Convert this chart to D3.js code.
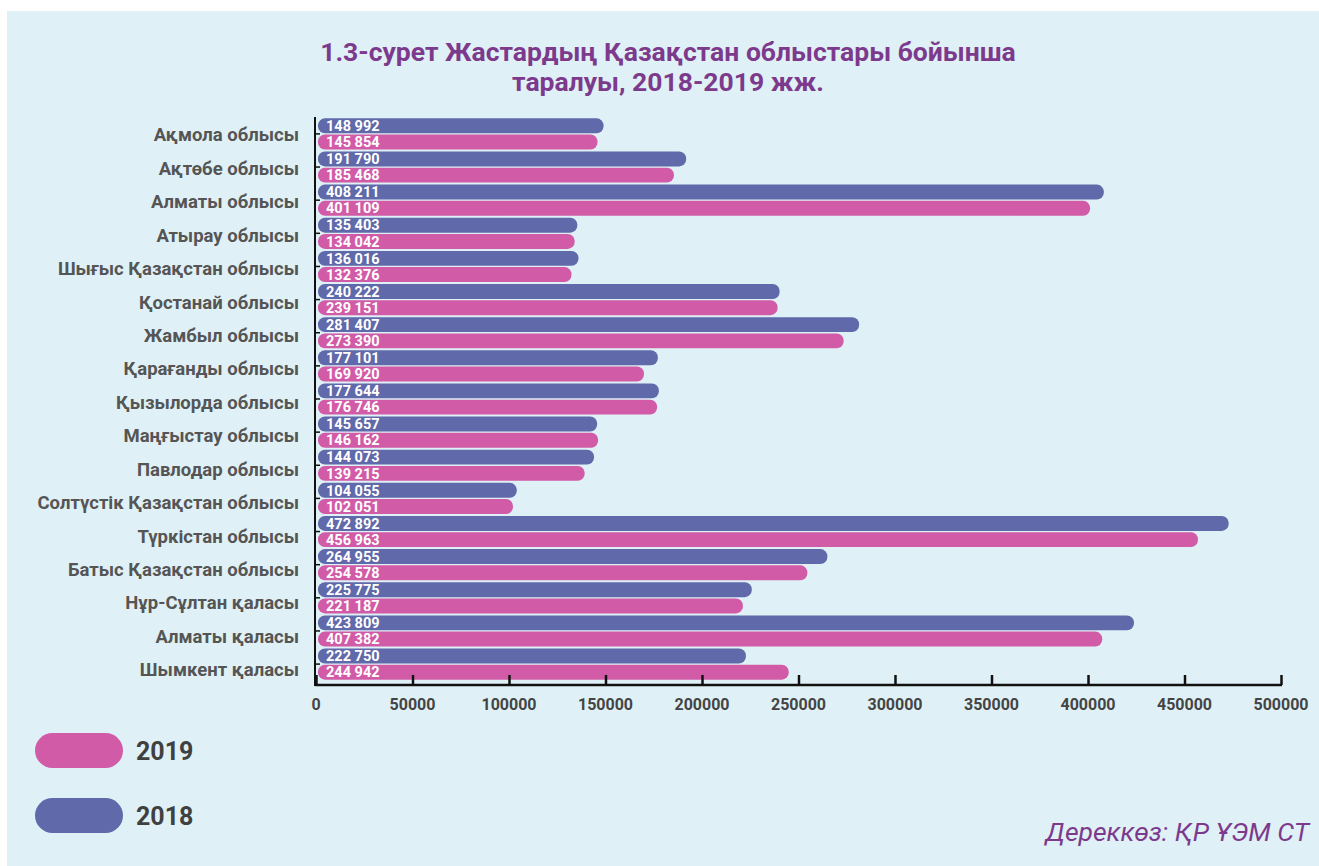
<!DOCTYPE html>
<html>
<head>
<meta charset="utf-8">
<script src="https://cdn.jsdelivr.net/npm/d3@7/dist/d3.min.js"></script>
<style>
  body { margin: 0; background: #fff; }
  text { font-family: Roboto, "Noto Sans", sans-serif; }
</style>
</head>
<body>
<div id="chart"></div>
<script>
// data
var regions = ["Ақмола облысы", "Ақтөбе облысы", "Алматы облысы", "Атырау облысы",
  "Шығыс Қазақстан облысы", "Қостанай облысы", "Жамбыл облысы", "Қарағанды облысы",
  "Қызылорда облысы", "Маңғыстау облысы", "Павлодар облысы", "Солтүстік Қазақстан облысы",
  "Түркістан облысы", "Батыс Қазақстан облысы", "Нұр-Сұлтан қаласы", "Алматы қаласы",
  "Шымкент қаласы"];
var v2018 = [148992, 191790, 408211, 135403, 136016, 240222, 281407, 177101, 177644,
  145657, 144073, 104055, 472892, 264955, 225775, 423809, 222750];
var v2019 = [145854, 185468, 401109, 134042, 132376, 239151, 273390, 169920, 176746,
  146162, 139215, 102051, 456963, 254578, 221187, 407382, 244942];
var xTicks = [0, 50000, 100000, 150000, 200000, 250000, 300000, 350000, 400000, 450000, 500000];
var years = ["2019", "2018"];

var W = 1319, H = 866;
var blue = "#6069a9", pink = "#d25ba8", purple = "#7d3a8d", grey = "#555";

var svg = d3.select("#chart").append("svg")
  .attr("width", W).attr("height", H);

// panel
svg.append("rect")
  .attr("x", 7).attr("y", 11)
  .attr("width", W - 7).attr("height", H - 11)
  .attr("fill", "#dff1f6");

// title
svg.append("text")
  .attr("x", 668).attr("y", 61)
  .attr("text-anchor", "middle")
  .attr("fill", purple)
  .style("font-size", "26.5px").style("font-weight", "bold")
  .text("1.3-сурет Жастардың Қазақстан облыстары бойынша");
svg.append("text")
  .attr("x", 668).attr("y", 91)
  .attr("text-anchor", "middle")
  .attr("fill", purple)
  .style("font-size", "26.5px").style("font-weight", "bold")
  .text("таралуы, 2018-2019 жж.");

// scales
var x = d3.scaleLinear().domain([0, 500000]).range([316, 1281]);
var y = d3.scaleBand().domain(regions).range([118, 680]).paddingInner(0.06).paddingOuter(0.01);
var sub = d3.scaleBand().domain(["2018", "2019"]).range([0, y.bandwidth()]).paddingInner(0.08);

// y axis line
svg.append("line")
  .attr("x1", 315).attr("x2", 315)
  .attr("y1", 117).attr("y2", 686)
  .attr("stroke", "#111").attr("stroke-width", 2);

// small y ticks at category centres
svg.append("g").selectAll("line")
  .data(regions).enter().append("line")
  .attr("x1", 315).attr("x2", 320)
  .attr("y1", function(d) { return y(d) + y.bandwidth() / 2; })
  .attr("y2", function(d) { return y(d) + y.bandwidth() / 2; })
  .attr("stroke", "#111").attr("stroke-width", 1.5);

// category labels
svg.append("g").selectAll("text")
  .data(regions).enter().append("text")
  .attr("x", 299)
  .attr("y", function(d, i) { return y(d) + y.bandwidth() / 2 + 1 + i * 0.3; })
  .attr("dy", "0.35em")
  .attr("text-anchor", "end")
  .attr("fill", grey)
  .style("font-size", "18.5px").style("font-weight", "bold")
  .text(function(d) { return d; });

// bars
var rows = regions.map(function(r, i) {
  return [{ region: r, year: "2018", value: v2018[i] }, { region: r, year: "2019", value: v2019[i] }];
});
var fmt = function(v) { return d3.format(",")(v).replace(/,/g, " "); };

var grp = svg.append("g").selectAll("g")
  .data(rows).enter().append("g")
  .attr("transform", function(d) { return "translate(0," + y(d[0].region) + ")"; });

grp.selectAll("rect")
  .data(function(d) { return d; }).enter().append("rect")
  .attr("x", x(0) + 2)
  .attr("y", function(d) { return sub(d.year); })
  .attr("width", function(d) { return x(d.value) - x(0) - 2; })
  .attr("height", sub.bandwidth())
  .attr("rx", 7).attr("ry", 7)
  .attr("fill", function(d) { return d.year === "2018" ? blue : pink; });

grp.selectAll("text")
  .data(function(d) { return d; }).enter().append("text")
  .attr("x", x(0) + 10)
  .attr("y", function(d) { return sub(d.year) + sub.bandwidth() / 2; })
  .attr("dy", "0.36em")
  .attr("fill", "#fff")
  .style("font-size", "14.5px").style("font-weight", "bold")
  .text(function(d) { return fmt(d.value); });

// x axis
var xAxis = d3.axisTop(x).tickValues(xTicks).tickSize(10).tickFormat("");
var gx = svg.append("g")
  .attr("transform", "translate(0,685)")
  .call(xAxis);
gx.select(".domain").remove();
gx.selectAll(".tick line").attr("stroke", "#111").attr("stroke-width", 2.5);
gx.append("line")
  .attr("x1", 315).attr("x2", x(500000) + 1)
  .attr("y1", 0).attr("y2", 0)
  .attr("stroke", "#111").attr("stroke-width", 2.5);

svg.append("g").selectAll("text")
  .data(xTicks).enter().append("text")
  .attr("x", function(d) { return x(d); })
  .attr("y", 710)
  .attr("text-anchor", "middle")
  .attr("fill", "#444")
  .style("font-size", "16px").style("font-weight", "bold")
  .text(function(d) { return d; });

// legend
var legend = svg.append("g").selectAll("g")
  .data(years).enter().append("g")
  .attr("transform", function(d, i) { return "translate(35," + (733 + i * 65) + ")"; });
legend.append("rect")
  .attr("width", 88).attr("height", 35)
  .attr("rx", 17.5).attr("ry", 17.5)
  .attr("fill", function(d) { return d === "2018" ? blue : pink; });
legend.append("text")
  .attr("x", 101).attr("y", 17.5)
  .attr("dy", "0.36em")
  .attr("fill", "#404040")
  .style("font-size", "25px").style("font-weight", "bold")
  .text(function(d) { return d; });

// source
svg.append("text")
  .attr("x", 1309).attr("y", 841)
  .attr("text-anchor", "end")
  .attr("fill", purple)
  .style("font-size", "26.5px").style("font-style", "italic")
  .text("Дереккөз: ҚР ҰЭМ СТ");
</script>
</body>
</html>
